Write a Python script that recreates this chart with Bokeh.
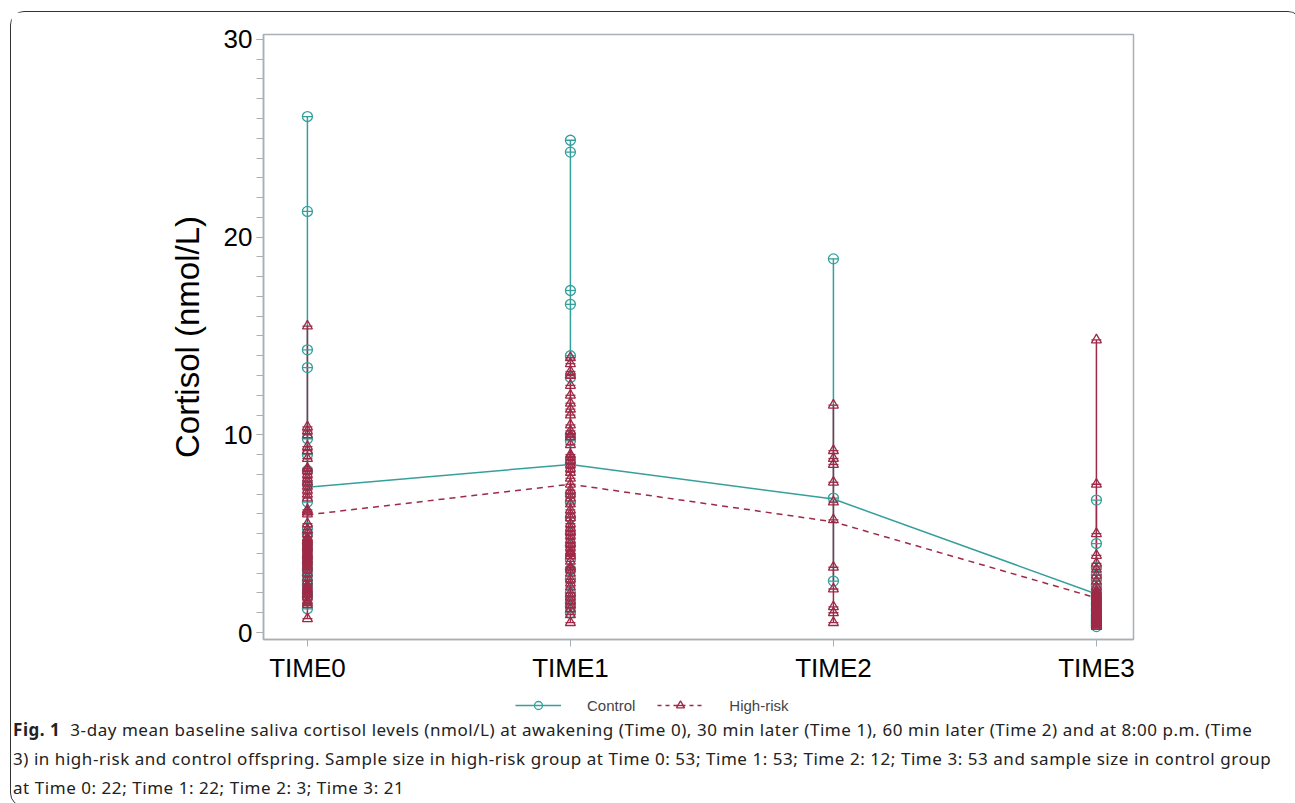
from bokeh.plotting import figure
from bokeh.models import Range1d, FixedTicker, SingleIntervalTicker, Legend, LegendItem, Div
from bokeh.layouts import column
from bokeh.embed import file_html
from bokeh.resources import INLINE

times = ["TIME0", "TIME1", "TIME2", "TIME3"]

control_t0 = [26.1, 21.3, 14.3, 13.4, 9.8, 9.0, 8.2, 7.5, 6.6, 5.3, 5.0, 4.5, 4.2, 3.8, 3.5, 3.2, 2.9, 2.6, 2.4, 2.0, 1.8, 1.2]
control_t1 = [24.9, 24.3, 17.3, 16.6, 14.0, 12.9, 10.0, 9.7, 8.6, 7.0, 6.6, 5.8, 5.0, 4.4, 3.7, 3.2, 2.7, 2.0, 1.8, 1.5, 1.3, 1.0]
control_t2 = [18.9, 6.8, 2.6]
control_t3 = [6.7, 4.5, 3.3, 2.9, 2.7, 2.4, 2.2, 2.0, 1.8, 1.7, 1.5, 1.4, 1.2, 1.1, 0.9, 0.8, 0.7, 0.6, 0.5, 0.4, 0.3]

highrisk_t0 = [15.5, 10.4, 10.2, 10.0, 9.4, 9.2, 8.8, 8.3, 8.2, 8.0, 7.8, 7.6, 7.4, 7.2, 7.0, 6.8, 6.2, 6.1, 6.0, 5.5,
               5.2, 5.0, 4.8, 4.7, 4.6, 4.5, 4.4, 4.3, 4.2, 4.1, 4.0, 3.9, 3.8, 3.7, 3.6, 3.5, 3.4, 3.3, 3.2, 3.0,
               2.8, 2.6, 2.4, 2.3, 2.2, 2.1, 2.0, 1.9, 1.8, 1.6, 1.5, 1.4, 0.7]
highrisk_t1 = [13.9, 13.6, 13.2, 13.0, 12.5, 12.0, 11.6, 11.3, 11.0, 10.5, 10.2, 10.0, 9.9, 9.5, 9.0, 8.9, 8.7, 8.5, 8.3, 8.1,
               7.8, 7.5, 7.2, 7.0, 6.8, 6.5, 6.2, 6.0, 5.8, 5.5, 5.3, 5.1, 4.9, 4.7, 4.5, 4.3, 4.1, 4.0, 3.9, 3.6,
               3.3, 3.2, 3.0, 2.7, 2.5, 2.3, 2.0, 1.8, 1.6, 1.4, 1.2, 0.9, 0.5]
highrisk_t2 = [11.5, 9.2, 8.8, 8.5, 7.6, 6.6, 5.7, 3.3, 2.2, 1.3, 1.0, 0.5]
highrisk_t3 = [14.8, 7.5, 5.0, 3.9, 3.5, 3.2, 2.9, 2.6, 2.3, 2.1,
               2.0, 1.9, 1.9, 1.8, 1.7, 1.7, 1.6, 1.5, 1.5, 1.4, 1.4, 1.3, 1.3, 1.2, 1.2, 1.1, 1.1, 1.0, 1.0, 1.0,
               0.9, 0.9, 0.8, 0.8, 0.8, 0.7, 0.7, 0.7, 0.6, 0.6, 0.6, 0.5, 0.5, 0.5, 0.5, 0.4, 0.4, 0.4, 0.4, 0.3,
               0.3, 0.3, 0.3]

control_mean = [7.35, 8.5, 6.75, 1.95]
highrisk_mean = [5.95, 7.5, 5.6, 1.75]

control_groups = [control_t0, control_t1, control_t2, control_t3]
highrisk_groups = [highrisk_t0, highrisk_t1, highrisk_t2, highrisk_t3]

TEAL = "#35a09b"
RED = "#9e2a47"
AXIS = "#a9b0b5"
FONT = "Liberation Sans"
W = 1282

p = figure(width=W, height=676, output_backend="svg", toolbar_location=None,
           x_range=Range1d(-0.167, 3.141), y_range=Range1d(-0.354, 30.25),
           min_border_left=252, min_border_right=160, min_border_top=22, min_border_bottom=49)
p.xgrid.visible = False
p.ygrid.visible = False
p.outline_line_color = AXIS
p.outline_line_width = 1.5

xi = list(range(len(times)))

# vertical range lines
p.segment(x0=xi, x1=xi, y0=[min(g) for g in control_groups], y1=[max(g) for g in control_groups],
          line_color=TEAL, line_width=1.5)
p.segment(x0=xi, x1=xi, y0=[min(g) for g in highrisk_groups], y1=[max(g) for g in highrisk_groups],
          line_color=RED, line_width=1.5)

# mean lines
p.line(xi, control_mean, line_color=TEAL, line_width=1.5)
p.line(xi, highrisk_mean, line_color=RED, line_width=1.5, line_dash="6 5")

cx = [i for i, g in enumerate(control_groups) for _ in g]
cy = [v for g in control_groups for v in g]
hx = [i for i, g in enumerate(highrisk_groups) for _ in g]
hy = [v for g in highrisk_groups for v in g]

p.scatter(cx, cy, marker="circle", size=10, fill_color=None, line_color=TEAL, line_width=1.3)
p.scatter(cx, cy, marker="dash", size=10, line_color=TEAL, line_width=1.3)
p.scatter(hx, hy, marker="triangle", size=10, fill_color=None, line_color=RED, line_width=1.3)
p.scatter(hx, hy, marker="dash", size=10, line_color=RED, line_width=1.3)

# axes
p.xaxis.ticker = FixedTicker(ticks=xi)
p.xaxis.major_label_overrides = {i: t for i, t in enumerate(times)}
p.yaxis.ticker = SingleIntervalTicker(interval=10, num_minor_ticks=10)
for ax in (p.xaxis[0], p.yaxis[0]):
    ax.axis_line_color = AXIS
    ax.axis_line_width = 1.5
    ax.major_tick_line_color = AXIS
    ax.minor_tick_line_color = AXIS
    ax.major_tick_out = 7
    ax.major_tick_in = 0
    ax.minor_tick_out = 7
    ax.minor_tick_in = 0
    ax.major_label_text_font = FONT
    ax.major_label_text_font_size = "26px"
    ax.major_label_text_color = "black"
p.xaxis.minor_tick_line_color = None
p.xaxis.major_label_standoff = 6
p.yaxis.major_label_standoff = 4
p.yaxis.axis_label = "Cortisol (nmol/L)"
p.yaxis.axis_label_text_font = FONT
p.yaxis.axis_label_text_font_size = "33px"
p.yaxis.axis_label_text_font_style = "normal"
p.yaxis.axis_label_text_color = "black"
p.yaxis.axis_label_standoff = 15

# legend strip (sample glyphs placed outside the visible range)
pl = figure(width=W, height=30, output_backend="svg", toolbar_location=None,
            x_range=Range1d(0, 1), y_range=Range1d(0, 1), min_border=0,
            x_axis_type=None, y_axis_type=None)
pl.xgrid.visible = False
pl.ygrid.visible = False
pl.outline_line_color = None
e = dict(x=[-5, -4], y=[-5, -5])
lc = pl.line(line_color=TEAL, line_width=1.5, **e)
sc = pl.scatter(marker="circle", size=10, fill_color=None, line_color=TEAL, line_width=1.3, **e)
lh = pl.line(line_color=RED, line_width=1.5, line_dash="4 4", **e)
sh = pl.scatter(marker="triangle", size=10, fill_color=None, line_color=RED, line_width=1.3, **e)
sh2 = pl.scatter(marker="dash", size=10, line_color=RED, line_width=1.3, **e)
legend = Legend(items=[LegendItem(label="Control", renderers=[lc, sc]),
                       LegendItem(label="High-risk", renderers=[lh, sh, sh2])],
                orientation="horizontal", location=(252, 3),
                label_text_font=FONT, label_text_font_size="15px",
                glyph_width=46, spacing=22, border_line_color=None, background_fill_alpha=0,
                margin=0, padding=2, label_standoff=26)
pl.add_layout(legend, "center")

caption_html = (
    '<div style="font-family:\'Noto Sans\'; font-size:17px; line-height:29px; color:#222; '
    'white-space:nowrap; letter-spacing:0.55px; margin-left:-3px; margin-top:-8px;">'
    '<b>Fig. 1</b>&nbsp;&nbsp;3-day mean baseline saliva cortisol levels (nmol/L) at awakening (Time 0), '
    '30 min later (Time 1), 60 min later (Time 2) and at 8:00 p.m. (Time<br>'
    '3) in high-risk and control offspring. Sample size in high-risk group at Time 0: 53; Time 1: 53; '
    'Time 2: 12; Time 3: 53 and sample size in control group<br>'
    'at Time 0: 22; Time 1: 22; Time 2: 3; Time 3: 21</div>'
)
cap = Div(text=caption_html, width=W - 2, height=78)

layout = column(p, pl, cap, styles={"border": "1.5px solid #333", "border-radius": "14px",
                                    "margin": "11px 0 0 10px"})

open("out.html", "w").write(file_html(layout, INLINE))
